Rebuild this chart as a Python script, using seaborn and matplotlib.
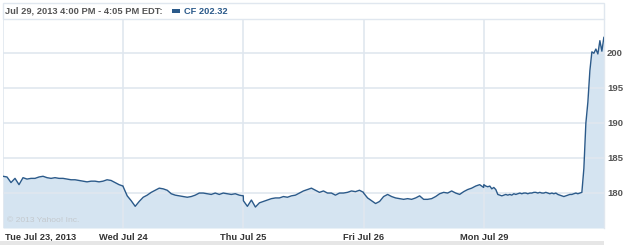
import numpy as np
import pandas as pd
import matplotlib
matplotlib.use("Agg")
import matplotlib.pyplot as plt
from matplotlib.patches import Rectangle
import seaborn as sns

# ---- data (CF intraday price, five trading days) ----
days = ["Tue Jul 23, 2013", "Wed Jul 24", "Thu Jul 25", "Fri Jul 26", "Mon Jul 29"]
tue = [182.4, 182.3, 181.5, 182.1, 181.2, 182.2, 182.0, 182.1, 182.1, 182.3, 182.4,
       182.2, 182.1, 182.2, 182.1, 182.1, 182.0, 181.9, 181.9, 181.8, 181.7, 181.6,
       181.7, 181.7, 181.6, 181.7, 181.9, 181.8, 181.5, 181.2, 181.0]
wed = [180.9, 179.6, 178.9, 178.1, 178.8, 179.4, 179.7, 180.1, 180.4, 180.7, 180.6,
       180.4, 179.9, 179.7, 179.6, 179.5, 179.4, 179.5, 179.7, 180.0, 180.0, 179.9,
       179.8, 180.0, 179.8, 180.0, 179.9, 179.8, 179.9, 179.7, 179.6]
thu = [178.9, 178.1, 179.0, 178.0, 178.6, 178.8, 179.0, 179.2, 179.3, 179.3, 179.5,
       179.4, 179.6, 179.7, 180.0, 180.3, 180.5, 180.7, 180.4, 180.1, 180.3, 180.0,
       180.0, 179.7, 180.0, 180.0, 180.1, 180.3, 180.2, 180.4, 180.1]
fri = [180.0, 179.3, 178.9, 178.5, 178.8, 179.5, 179.8, 179.5, 179.3, 179.2, 179.1,
       179.2, 179.1, 179.3, 179.6, 179.1, 179.1, 179.2, 179.5, 179.9, 180.1, 180.0,
       180.3, 180.0, 179.8, 180.2, 180.5, 180.7, 181.0, 181.2, 180.8]
mon = [181.2, 181.0, 180.9, 181.0, 180.6, 180.8, 180.5, 179.8, 179.7, 179.6, 179.7,
       179.8, 179.7, 179.8, 179.7, 179.9, 179.8, 179.9, 180.0, 179.9, 180.0, 180.0,
       179.9, 180.0, 180.0, 180.1, 180.1, 180.0, 180.1, 180.0, 180.0, 180.1, 180.0,
       179.9, 180.0, 179.9, 180.0, 179.8, 179.7, 179.6, 179.5, 179.6, 179.7, 179.8,
       179.8, 179.9, 180.0, 179.9, 180.0, 180.1, 183.5, 190.0, 193.0, 197.5, 200.2,
       200.0, 200.6, 199.9, 201.8, 200.3, 202.3]
y_ticks = [180, 185, 190, 195, 200]
header = "Jul 29, 2013 4:00 PM - 4:05 PM EDT:"
legend_label = "CF 202.32"
credit = "\u00a9 2013 Yahoo! Inc."

rows = []
for d, vals in enumerate([tue, wed, thu, fri, mon]):
    n = len(vals)
    for i, v in enumerate(vals):
        rows.append({"t": d + i / (n - 1) * 0.999, "price": v})
df = pd.DataFrame(rows)

sns.set_theme(style="white")
plt.rcParams["font.family"] = ["Liberation Sans", "DejaVu Sans"]

W, H = 625, 245
fig = plt.figure(figsize=(W / 100, H / 100), dpi=100)
fig.patch.set_facecolor("white")
L, R, T, B = 3, 604, 19, 228
ax = fig.add_axes([L / W, 1 - B / H, (R - L) / W, (B - T) / H])

line_c = "#2b5a8a"
fill_c = "#d5e4f1"
grid_c = "#e0e7ef"

ax.fill_between(df["t"], df["price"], 175, color=fill_c, lw=0, zorder=1)
sns.lineplot(data=df, x="t", y="price", ax=ax, color=line_c, lw=1.0, zorder=3)

ax.set_xlim(0, 5)
ax.set_ylim(175, 204.9)
for d in range(5):
    ax.axvline(d, color=grid_c, lw=1.2, zorder=2)
for yv in y_ticks:
    ax.axhline(yv, color=grid_c, lw=1.2, zorder=2)

ax.set_xticks([])
ax.set_yticks([])
ax.set_xlabel("")
ax.set_ylabel("")
for s in ["top", "left", "bottom"]:
    ax.spines[s].set_visible(False)
ax.spines["right"].set_color(grid_c)
ax.spines["right"].set_linewidth(1.0)

# y tick labels at right
for yv in y_ticks:
    ax.text(1.0, yv, str(yv), transform=ax.get_yaxis_transform(),
            ha="left", va="center", fontsize=6.8, fontweight="bold",
            color="#555555", x=(R + 4 - L) / (R - L)) if False else None
    fig.text((R + 3) / W, 0, "")
for yv in y_ticks:
    ax.annotate(str(yv), xy=(1, yv), xycoords=("axes fraction", "data"),
                xytext=(3, 0), textcoords="offset pixels",
                ha="left", va="center", fontsize=6.8, fontweight="bold",
                color="#555555")

# x tick labels
for d, lab in enumerate(days):
    ha = "left" if d == 0 else "center"
    off = 2 if d == 0 else 0
    ax.annotate(lab, xy=(d, 0), xycoords=("data", "axes fraction"),
                xytext=(off, -9), textcoords="offset pixels",
                ha=ha, va="center", fontsize=6.7, fontweight="bold",
                color="#333333")

# credit
ax.annotate(credit, xy=(0, 0), xycoords="axes fraction", xytext=(4, 7),
            textcoords="offset pixels", ha="left", va="center",
            fontsize=6.1, color="#c4c9ce")

# header box
fig.patches.append(Rectangle((L / W, 1 - T / H), (R - L) / W, (T - 3) / H,
                             transform=fig.transFigure, facecolor="white",
                             edgecolor=grid_c, lw=1.0))
fig.text(5 / W, 1 - 11 / H, header, ha="left", va="center", fontsize=6.7,
         fontweight="bold", color="#555555")
fig.patches.append(Rectangle((172 / W, 1 - 13 / H), 8 / W, 4 / H,
                             transform=fig.transFigure, facecolor=line_c,
                             edgecolor="none"))
fig.text(184 / W, 1 - 11 / H, legend_label, ha="left", va="center",
         fontsize=6.7, fontweight="bold", color="#2b5a8a")

# bottom strip
fig.patches.append(Rectangle((0, 0), R / W, 4 / H, transform=fig.transFigure,
                             facecolor="#e6e6e6", edgecolor="none"))

fig.savefig("out.png", dpi=100, facecolor="white")
